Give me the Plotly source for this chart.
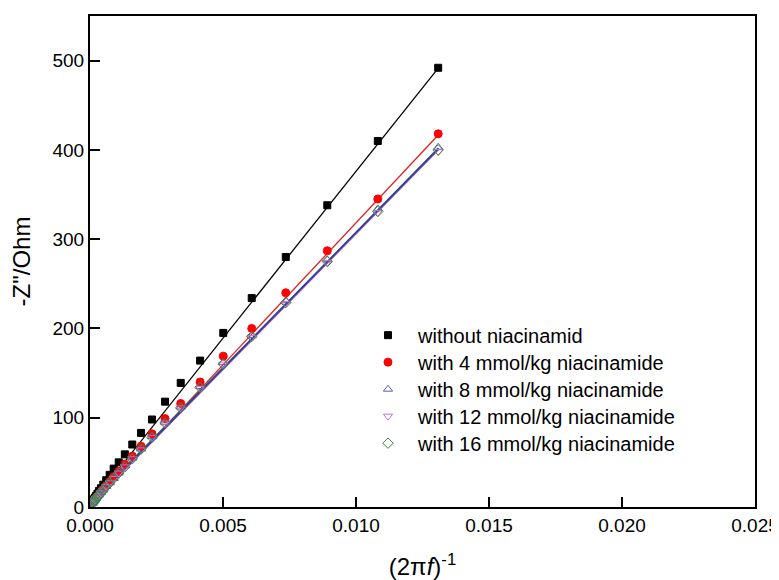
import plotly.graph_objects as go

# 1/(2*pi*f) values (same for every sample)
inv_w = [0.01309, 0.01082, 0.00892, 0.00736, 0.00608, 0.00501, 0.00414, 0.00341,
         0.00282, 0.00233, 0.00192, 0.00159, 0.00131, 0.00108, 0.00089, 0.00074,
         0.00061, 0.00050, 0.00041, 0.00034, 0.00028, 0.00023, 0.00019, 0.00016,
         0.00013, 0.00011, 0.00009]

# -Z'' (Ohm) for each sample
z_0 = [492, 410, 338, 280, 234, 195, 164, 139, 118, 98, 83, 70, 59, 50, 43, 36,
       30, 25, 21, 18, 15, 12.5, 10.5, 9, 7.5, 6.5, 5.5]
z_4 = [418, 345, 287, 240, 200, 169, 140, 116, 99, 82, 68, 57, 48, 40, 34, 28.5,
       24, 20, 16.5, 14, 12, 10, 8.5, 7, 6, 5, 4.5]
z_8 = [403, 334, 277, 231, 192, 162, 135, 112, 95, 79, 65, 55, 46, 38, 32, 27,
       23, 19, 16, 13.5, 11.5, 9.5, 8, 7, 6, 5, 4]
z_12 = [398, 330, 274, 228, 190, 160, 133, 111, 94, 78, 64, 54, 45, 38, 32, 27,
        23, 19, 16, 13, 11, 9.5, 8, 7, 6, 5, 4]
z_16 = [400, 331, 275, 229, 191, 160, 134, 111, 94, 78, 65, 54, 45, 38, 32, 27,
        23, 19, 16, 13.5, 11.5, 9.5, 8, 7, 6, 5, 4]

# linear fit lines (end points)
fit_x = [0.0, 0.0131]
fit_0 = [2, 492]
fit_4 = [0, 417]
fit_8 = [3, 402]
fit_12 = [2, 400]
fit_16 = [5, 401]

names = ["without niacinamid", "with 4 mmol/kg niacinamide", "with 8 mmol/kg niacinamide",
         "with 12 mmol/kg niacinamide", "with 16 mmol/kg niacinamide"]
series = [z_0, z_4, z_8, z_12, z_16]
fits = [fit_0, fit_4, fit_8, fit_12, fit_16]
colors = ["#000000", "#ff0000", "#5a5ab0", "#c070d8", "#3a8a3a"]
line_colors = ["#000000", "#e02020", "#2e3f9e", "#b050c0", "#2f7a3f"]
symbols = ["square", "circle", "triangle-up-open", "triangle-down-open", "diamond-open"]
sizes = [7, 8, 8, 8, 8]

# legend rows (paper y), one small legend per entry so the row spacing matches
legend_ids = ["legend", "legend2", "legend3", "legend4", "legend5"]
legend_rows = [0.350, 0.295, 0.240, 0.185, 0.130]

fig = go.Figure()

# fit lines first, the blue one drawn last so it sits on top
for i in [0, 1, 3, 4, 2]:
    fig.add_trace(go.Scatter(x=fit_x, y=fits[i], mode="lines", showlegend=False,
                             line=dict(color=line_colors[i], width=1.6 if i == 2 else 1.3),
                             hoverinfo="skip"))

for i in range(5):
    fig.add_trace(go.Scatter(x=inv_w, y=series[i], mode="markers", name=names[i],
                             legend=legend_ids[i],
                             marker=dict(symbol=symbols[i], size=sizes[i], color=colors[i],
                                         line=dict(color=colors[i], width=1))))

leg = {}
for lid, ly in zip(legend_ids, legend_rows):
    leg[lid] = dict(x=0.403, y=ly, xanchor="left", yanchor="middle",
                    bgcolor="rgba(0,0,0,0)", font=dict(size=20), itemwidth=50)

# page has an 8px body margin, so the figure is made 8px smaller to fit the window
fig.update_layout(
    width=771, height=572,
    margin=dict(l=82, r=24, t=8, b=73),
    plot_bgcolor="white", paper_bgcolor="white",
    font=dict(family="Liberation Sans, Arial", size=20, color="black"),
    **leg,
)
fig.update_xaxes(range=[0, 0.025], dtick=0.005, tickformat=".3f", automargin=False,
                 tickfont=dict(size=19),
                 showline=True, linecolor="black", linewidth=2, mirror=True,
                 ticks="inside", ticklen=10, tickwidth=2, tickcolor="black",
                 showgrid=False, zeroline=False,
                 title=dict(text="(2π<i>f</i>)<sup>-1</sup>", standoff=25))
fig.update_yaxes(range=[0, 550], dtick=100, automargin=False,
                 tickfont=dict(size=19),
                 showline=True, linecolor="black", linewidth=2, mirror=True,
                 ticks="inside", ticklen=10, tickwidth=2, tickcolor="black",
                 showgrid=False, zeroline=False,
                 title=dict(text="-Z\"/Ohm", standoff=24))

fig.write_html("out.html")
